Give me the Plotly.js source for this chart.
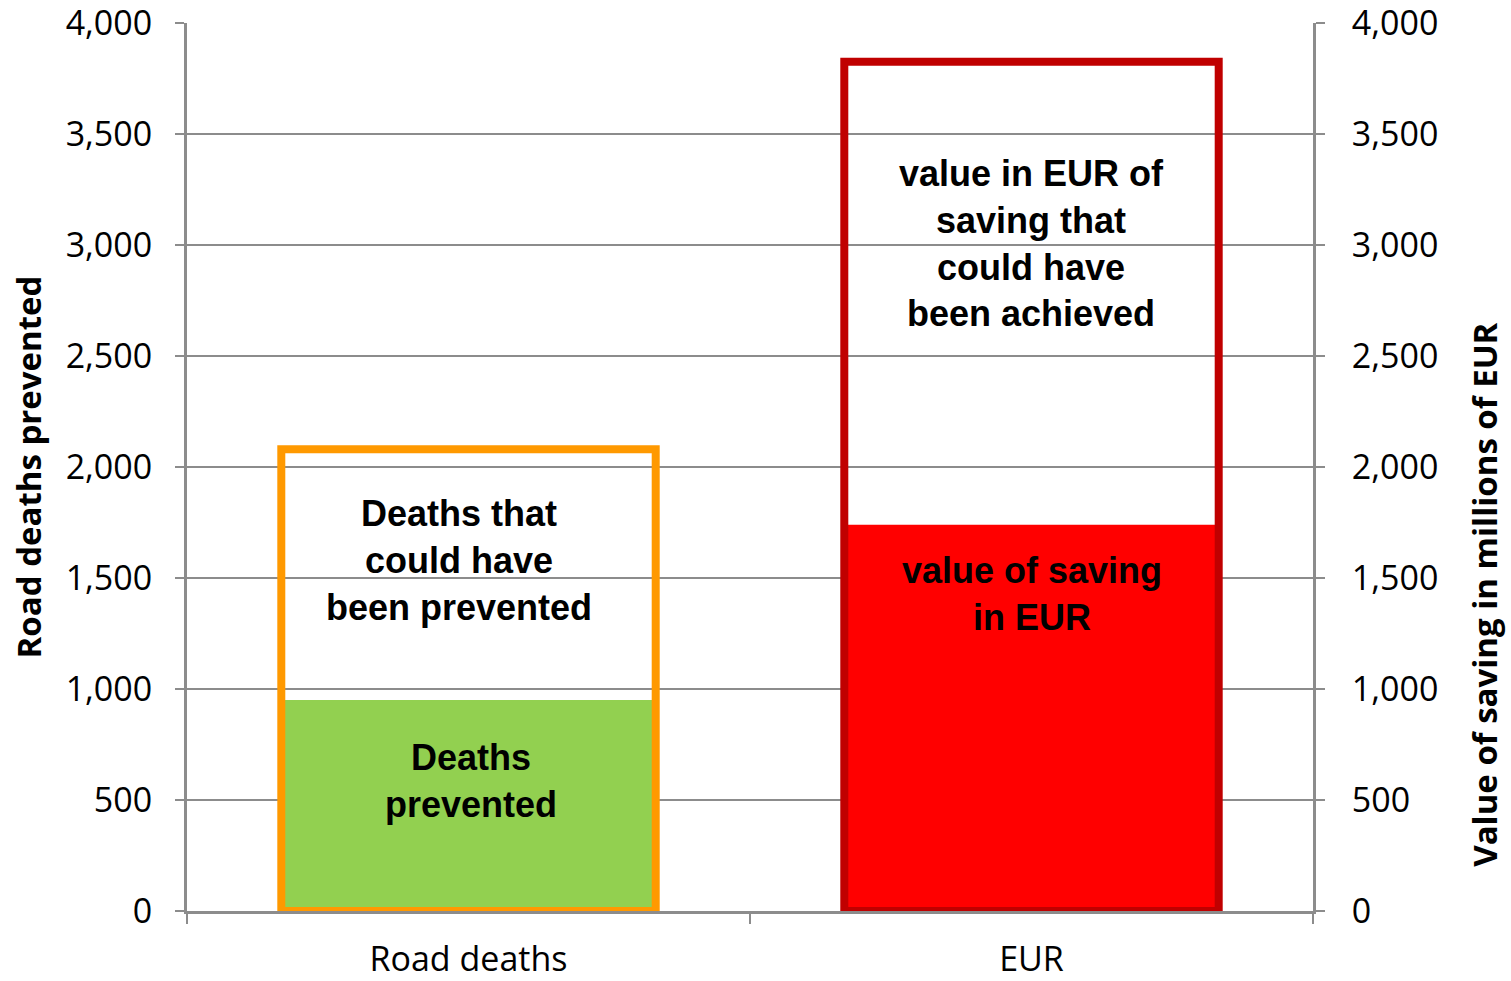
<!DOCTYPE html>
<html>
<head>
<meta charset="utf-8">
<script src="https://cdn.plot.ly/plotly-3.0.1.min.js"></script>
<style>
  html, body { margin: 0; padding: 0; background: #ffffff; }
  #chart { width: 1511px; height: 981px; }
</style>
</head>
<body>
<div id="chart"></div>
<script>
  // categories on the x axis
  const categories = ['Road deaths', 'EUR'];
  // what was achieved (filled part) and what could have been (outlined total)
  const achievedValues = [950, 1740];
  const potentialValues = [2080, 3825];
  const axisTicks = [0, 500, 1000, 1500, 2000, 2500, 3000, 3500, 4000];

  const fillLabels = ['Deaths<br>prevented', 'value of saving<br>in EUR'];
  const outlineLabels = ['Deaths that<br>could have<br>been prevented', 'value in EUR of<br>saving that<br>could have<br>been achieved'];
  const labelValues = [585, 1430];
  const outlineLabelValues = [1577, 3005];

  const COLORS = {
    deathsFill: '#92D050',
    deathsOutline: '#FF9900',
    eurFill: '#FF0000',
    eurOutline: '#C00000',
    grid: '#8C8C8C',
    text: '#000000'
  };
  const BAR_WIDTH = 0.665;
  const TICK_FONT = { family: '"Open Sans", sans-serif', size: 34, color: COLORS.text };
  const TITLE_FONT = { family: '"Open Sans", sans-serif', size: 33, color: COLORS.text, weight: 700 };
  const LABEL_FONT = { family: '"Liberation Sans", Arial, sans-serif', size: 36, color: COLORS.text, weight: 700 };

  function fillBar(index, color, yaxis) {
    return {
      type: 'bar',
      x: [categories[index]],
      y: [achievedValues[index]],
      yaxis,
      width: BAR_WIDTH,
      marker: { color, line: { width: 0 } },
      hoverinfo: 'skip',
      showlegend: false
    };
  }

  function outlineBar(index, color, yaxis) {
    return {
      type: 'bar',
      x: [categories[index]],
      y: [potentialValues[index]],
      yaxis,
      width: BAR_WIDTH,
      marker: { color: 'rgba(0,0,0,0)', line: { color, width: 8 } },
      hoverinfo: 'skip',
      showlegend: false
    };
  }

  const traces = [
    fillBar(0, COLORS.deathsFill, 'y'),
    outlineBar(0, COLORS.deathsOutline, 'y'),
    fillBar(1, COLORS.eurFill, 'y2'),
    outlineBar(1, COLORS.eurOutline, 'y2')
  ];

  function barText(index, text, value, yref, xshift) {
    return {
      x: categories[index],
      y: value,
      xref: 'x',
      yref,
      text,
      showarrow: false,
      xshift,
      font: LABEL_FONT,
      align: 'center'
    };
  }

  const valueAxis = {
    range: [0, 4000],
    tickvals: axisTicks,
    tickformat: ',',
    ticks: 'outside',
    ticklen: 9,
    tickwidth: 2,
    tickcolor: COLORS.grid,
    ticklabeloverflow: 'allow',
    showline: true,
    linecolor: COLORS.grid,
    linewidth: 3,
    zeroline: false,
    automargin: false,
    fixedrange: true,
    tickfont: TICK_FONT
  };

  const layout = {
    width: 1511,
    height: 981,
    paper_bgcolor: '#ffffff',
    plot_bgcolor: '#ffffff',
    margin: { t: 23, r: 198, b: 70, l: 187 },
    barmode: 'overlay',
    showlegend: false,
    xaxis: {
      type: 'category',
      categoryarray: categories,
      tickson: 'boundaries',
      ticks: 'outside',
      ticklen: 10,
      tickwidth: 2,
      tickcolor: COLORS.grid,
      ticklabelstandoff: 16,
      ticklabeloverflow: 'allow',
      showline: true,
      linecolor: COLORS.grid,
      linewidth: 3,
      showgrid: false,
      zeroline: false,
      automargin: false,
      tickfont: TICK_FONT
    },
    yaxis: Object.assign({}, valueAxis, {
      showgrid: true,
      gridcolor: COLORS.grid,
      gridwidth: 2,
      ticklabelstandoff: 16,
      title: { text: 'Road deaths prevented', font: TITLE_FONT, standoff: 15 }
    }),
    yaxis2: Object.assign({}, valueAxis, {
      overlaying: 'y',
      side: 'right',
      showgrid: false,
      ticklabelstandoff: 20
    }),
    annotations: [
      barText(0, outlineLabels[0], outlineLabelValues[0], 'y', -10),
      barText(0, fillLabels[0], labelValues[0], 'y', 2),
      barText(1, outlineLabels[1], outlineLabelValues[1], 'y2', 0),
      barText(1, fillLabels[1], labelValues[1], 'y2', 0),
      {
        // right axis title sits lower than centre in the original
        text: 'Value of saving in millions of EUR',
        xref: 'paper',
        yref: 'paper',
        x: 1.1527,
        y: 0.356,
        xanchor: 'center',
        yanchor: 'middle',
        textangle: -90,
        showarrow: false,
        font: TITLE_FONT
      }
    ]
  };

  Plotly.newPlot('chart', traces, layout, { displayModeBar: false, staticPlot: true });
</script>
</body>
</html>
